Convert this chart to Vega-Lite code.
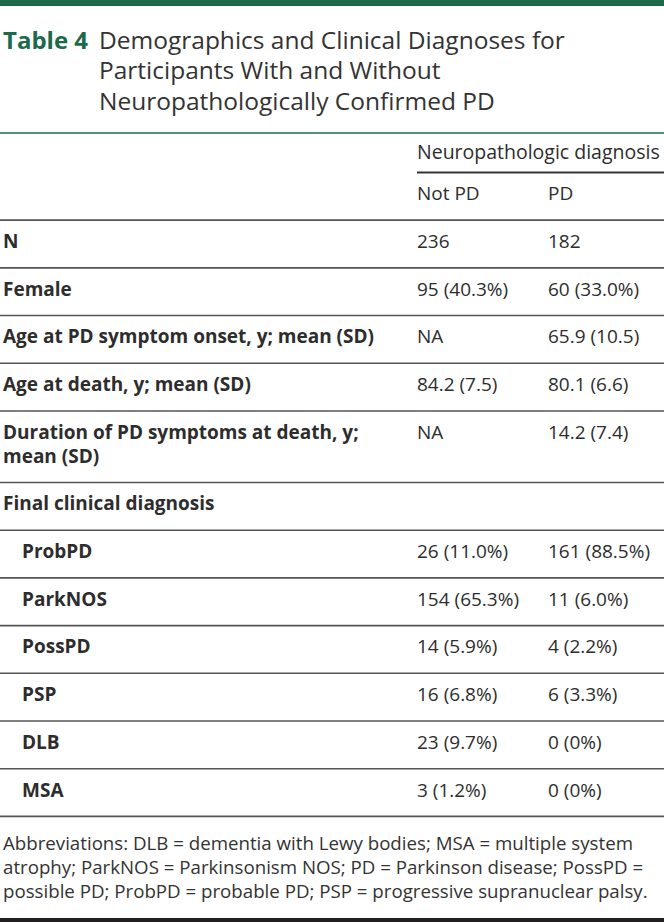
{
  "$schema": "https://vega.github.io/schema/vega-lite/v6.json",
  "width": 664,
  "height": 922,
  "padding": 0,
  "autosize": {"type": "none"},
  "background": "white",
  "config": {
    "view": {"stroke": null},
    "axis": {"disable": true},
    "font": "Open Sans"
  },
  "datasets": {
    "frame": [{"part": "top"}, {"part": "bottom"}],
    "title": [
      {"line": "t1", "col": "tag", "text": "Table 4"},
      {"line": "t1", "col": "title", "text": "Demographics and Clinical Diagnoses for"},
      {"line": "t2", "col": "title", "text": "Participants With and Without"},
      {"line": "t3", "col": "title", "text": "Neuropathologically Confirmed PD"}
    ],
    "cells": [
      {"slot": "hdr", "col": "notpd", "kind": "span", "text": "Neuropathologic diagnosis"},
      {"slot": "sub", "col": "notpd", "kind": "head", "text": "Not PD"},
      {"slot": "sub", "col": "pd", "kind": "head", "text": "PD"},
      {"slot": "N", "col": "label", "kind": "label", "text": "N"},
      {"slot": "N", "col": "notpd", "kind": "value", "text": "236"},
      {"slot": "N", "col": "pd", "kind": "value", "text": "182"},
      {"slot": "Female", "col": "label", "kind": "label", "text": "Female"},
      {"slot": "Female", "col": "notpd", "kind": "value", "text": "95 (40.3%)"},
      {"slot": "Female", "col": "pd", "kind": "value", "text": "60 (33.0%)"},
      {"slot": "Onset", "col": "label", "kind": "label", "text": "Age at PD symptom onset, y; mean (SD)"},
      {"slot": "Onset", "col": "notpd", "kind": "value", "text": "NA"},
      {"slot": "Onset", "col": "pd", "kind": "value", "text": "65.9 (10.5)"},
      {"slot": "Death", "col": "label", "kind": "label", "text": "Age at death, y; mean (SD)"},
      {"slot": "Death", "col": "notpd", "kind": "value", "text": "84.2 (7.5)"},
      {"slot": "Death", "col": "pd", "kind": "value", "text": "80.1 (6.6)"},
      {"slot": "Dur1", "col": "label", "kind": "label", "text": "Duration of PD symptoms at death, y;"},
      {"slot": "Dur2", "col": "label", "kind": "label", "text": "mean (SD)"},
      {"slot": "Dur1", "col": "notpd", "kind": "value", "text": "NA"},
      {"slot": "Dur1", "col": "pd", "kind": "value", "text": "14.2 (7.4)"},
      {"slot": "Final", "col": "label", "kind": "label", "text": "Final clinical diagnosis"},
      {"slot": "ProbPD", "col": "sub", "kind": "label", "text": "ProbPD"},
      {"slot": "ProbPD", "col": "notpd", "kind": "value", "text": "26 (11.0%)"},
      {"slot": "ProbPD", "col": "pd", "kind": "value", "text": "161 (88.5%)"},
      {"slot": "ParkNOS", "col": "sub", "kind": "label", "text": "ParkNOS"},
      {"slot": "ParkNOS", "col": "notpd", "kind": "value", "text": "154 (65.3%)"},
      {"slot": "ParkNOS", "col": "pd", "kind": "value", "text": "11 (6.0%)"},
      {"slot": "PossPD", "col": "sub", "kind": "label", "text": "PossPD"},
      {"slot": "PossPD", "col": "notpd", "kind": "value", "text": "14 (5.9%)"},
      {"slot": "PossPD", "col": "pd", "kind": "value", "text": "4 (2.2%)"},
      {"slot": "PSP", "col": "sub", "kind": "label", "text": "PSP"},
      {"slot": "PSP", "col": "notpd", "kind": "value", "text": "16 (6.8%)"},
      {"slot": "PSP", "col": "pd", "kind": "value", "text": "6 (3.3%)"},
      {"slot": "DLB", "col": "sub", "kind": "label", "text": "DLB"},
      {"slot": "DLB", "col": "notpd", "kind": "value", "text": "23 (9.7%)"},
      {"slot": "DLB", "col": "pd", "kind": "value", "text": "0 (0%)"},
      {"slot": "MSA", "col": "sub", "kind": "label", "text": "MSA"},
      {"slot": "MSA", "col": "notpd", "kind": "value", "text": "3 (1.2%)"},
      {"slot": "MSA", "col": "pd", "kind": "value", "text": "0 (0%)"}
    ],
    "rules": [
      {"slot": "hdr_rule", "kind": "span"},
      {"slot": "sub_rule", "kind": "row"},
      {"slot": "N_rule", "kind": "row"},
      {"slot": "Female_rule", "kind": "row"},
      {"slot": "Onset_rule", "kind": "row"},
      {"slot": "Death_rule", "kind": "row"},
      {"slot": "Dur_rule", "kind": "row"},
      {"slot": "Final_rule", "kind": "row"},
      {"slot": "ProbPD_rule", "kind": "row"},
      {"slot": "ParkNOS_rule", "kind": "row"},
      {"slot": "PossPD_rule", "kind": "row"},
      {"slot": "PSP_rule", "kind": "row"},
      {"slot": "DLB_rule", "kind": "row"},
      {"slot": "MSA_rule", "kind": "row"}
    ],
    "foot": [
      {"line": "f1", "col": "label", "text": "Abbreviations: DLB = dementia with Lewy bodies; MSA = multiple system"},
      {"line": "f2", "col": "label", "text": "atrophy; ParkNOS = Parkinsonism NOS; PD = Parkinson disease; PossPD ="},
      {"line": "f3", "col": "label", "text": "possible PD; ProbPD = probable PD; PSP = progressive supranuclear palsy."}
    ]
  },
  "resolve": {"scale": {"x": "independent", "y": "independent"}},
  "layer": [
    {
      "data": {"name": "frame"},
      "layer": [
        {
          "transform": [{"filter": "datum.part === 'top'"}],
          "mark": {"type": "rule", "color": "#1b6b4b", "strokeWidth": 6},
          "encoding": {"y": {"field": "part", "type": "nominal", "axis": null, "scale": {"type": "point", "padding": 0, "domain": ["top", "bottom"], "range": [3, 920]}}}
        },
        {
          "transform": [{"filter": "datum.part === 'bottom'"}],
          "mark": {"type": "rule", "color": "#231f20", "strokeWidth": 4},
          "encoding": {"y": {"field": "part", "type": "nominal", "axis": null, "scale": {"type": "point", "padding": 0, "domain": ["top", "bottom"], "range": [3, 920]}}}
        }
      ]
    },
    {
      "data": {"name": "title"},
      "layer": [
        {
          "transform": [{"filter": "datum.col === 'tag'"}],
          "mark": {"type": "text", "align": "left", "baseline": "middle", "font": "Open Sans", "fontSize": 24, "fontWeight": "bold", "color": "#1b6b4b"},
          "encoding": {
            "x": {"field": "col", "type": "nominal", "axis": null, "scale": {"type": "point", "padding": 0, "domain": ["tag", "title"], "range": [3, 99]}},
            "y": {"field": "line", "type": "nominal", "axis": null, "scale": {"type": "point", "padding": 0, "domain": ["t1", "t2", "t3", "trule"], "range": [42, 133]}},
            "text": {"field": "text"}
          }
        },
        {
          "transform": [{"filter": "datum.col === 'title'"}],
          "mark": {"type": "text", "align": "left", "baseline": "middle", "font": "Open Sans", "fontSize": 24.5, "color": "#333333"},
          "encoding": {
            "x": {"field": "col", "type": "nominal", "axis": null, "scale": {"type": "point", "padding": 0, "domain": ["tag", "title"], "range": [3, 99]}},
            "y": {"field": "line", "type": "nominal", "axis": null, "scale": {"type": "point", "padding": 0, "domain": ["t1", "t2", "t3", "trule"], "range": [42, 133]}},
            "text": {"field": "text"}
          }
        },
        {
          "transform": [{"filter": "datum.col === 'tag'"}],
          "mark": {"type": "rule", "color": "#1b6b4b", "strokeWidth": 1.5},
          "encoding": {
            "y": {"datum": "trule", "type": "nominal", "axis": null, "scale": {"type": "point", "padding": 0, "domain": ["t1", "t2", "t3", "trule"], "range": [42, 133]}}
          }
        }
      ]
    },
    {
      "data": {"name": "cells"},
      "transform": [{"filter": "datum.col === 'label' || datum.col === 'sub'"}],
      "mark": {"type": "text", "align": "left", "baseline": "middle", "font": "Open Sans", "fontSize": 19, "fontWeight": "bold", "color": "#2d2d2d", "dy": -2},
      "encoding": {
        "x": {"field": "col", "type": "nominal", "axis": null, "scale": {"type": "point", "padding": 0, "domain": ["label", "sub"], "range": [3, 22]}},
        "y": {"field": "slot", "type": "nominal", "axis": null, "scale": {"type": "point", "padding": 0, "range": [148.6, 816.4], "domain": ["hdr", "hdr_rule", "sub", "sub_rule", "N", "N_rule", "Female", "Female_rule", "Onset", "Onset_rule", "Death", "Death_rule", "Dur1", "Dur2", "Dur_rule", "Final", "Final_rule", "ProbPD", "ProbPD_rule", "ParkNOS", "ParkNOS_rule", "PossPD", "PossPD_rule", "PSP", "PSP_rule", "DLB", "DLB_rule", "MSA", "MSA_rule"]}},
        "text": {"field": "text"}
      }
    },
    {
      "layer": [
        {
          "data": {"name": "cells"},
          "transform": [{"filter": "(datum.col === 'notpd' || datum.col === 'pd') && datum.kind !== 'span'"}],
          "mark": {"type": "text", "align": "left", "baseline": "middle", "font": "Open Sans", "fontSize": 19, "color": "#2d2d2d", "dy": -2},
          "encoding": {
            "x": {"field": "col", "type": "nominal", "axis": null, "scale": {"type": "point", "padding": 0, "domain": ["notpd", "pd", "end"], "range": [417, 679]}},
            "y": {"field": "slot", "type": "nominal", "axis": null, "scale": {"type": "point", "padding": 0, "range": [148.6, 816.4], "domain": ["hdr", "hdr_rule", "sub", "sub_rule", "N", "N_rule", "Female", "Female_rule", "Onset", "Onset_rule", "Death", "Death_rule", "Dur1", "Dur2", "Dur_rule", "Final", "Final_rule", "ProbPD", "ProbPD_rule", "ParkNOS", "ParkNOS_rule", "PossPD", "PossPD_rule", "PSP", "PSP_rule", "DLB", "DLB_rule", "MSA", "MSA_rule"]}},
            "text": {"field": "text"}
          }
        },
        {
          "data": {"name": "cells"},
          "transform": [{"filter": "datum.kind === 'span'"}],
          "mark": {"type": "text", "align": "left", "baseline": "middle", "font": "Open Sans", "fontSize": 19.5, "color": "#2d2d2d", "dy": 4},
          "encoding": {
            "x": {"field": "col", "type": "nominal", "axis": null},
            "y": {"field": "slot", "type": "nominal", "axis": null},
            "text": {"field": "text"}
          }
        },
        {
          "data": {"name": "rules"},
          "transform": [{"filter": "datum.kind === 'row'"}],
          "mark": {"type": "rule", "color": "#555555", "strokeWidth": 1.6},
          "encoding": {
            "y": {"field": "slot", "type": "nominal", "axis": null}
          }
        },
        {
          "data": {"name": "rules"},
          "transform": [{"filter": "datum.kind === 'span'"}],
          "mark": {"type": "rule", "color": "#333333", "strokeWidth": 2},
          "encoding": {
            "y": {"field": "slot", "type": "nominal", "axis": null},
            "x": {"datum": "notpd", "type": "nominal", "axis": null},
            "x2": {"datum": "end"}
          }
        }
      ]
    },
    {
      "data": {"name": "foot"},
      "mark": {"type": "text", "align": "left", "baseline": "middle", "font": "Open Sans", "fontSize": 18.7, "color": "#333333"},
      "encoding": {
        "x": {"field": "col", "type": "nominal", "axis": null, "scale": {"type": "point", "padding": 0, "domain": ["label", "sub"], "range": [3, 22]}},
        "y": {"field": "line", "type": "nominal", "axis": null, "scale": {"type": "point", "padding": 0, "domain": ["f1", "f2", "f3"], "range": [844, 892]}},
        "text": {"field": "text"}
      }
    }
  ]
}
